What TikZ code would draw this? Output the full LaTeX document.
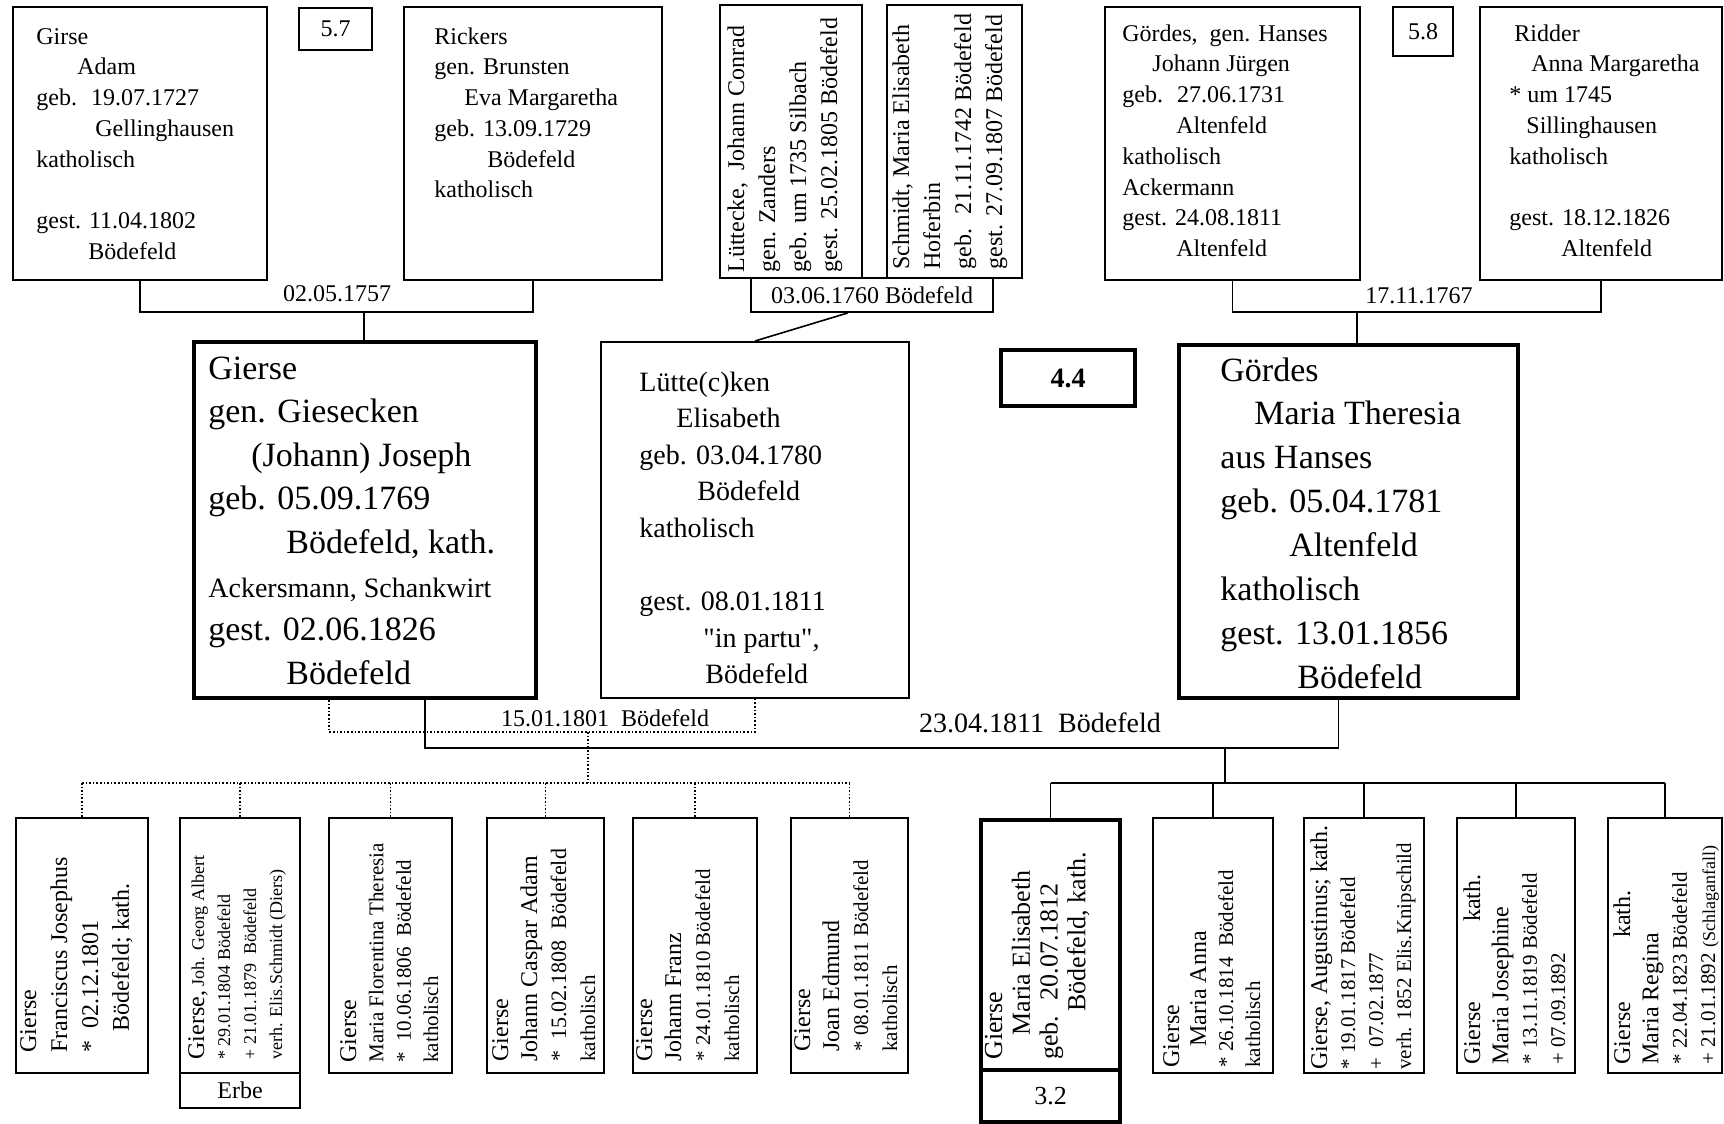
\documentclass[tikz,border=0pt]{standalone}
\usepackage{fontspec}
\setmainfont{Liberation Serif}[Ligatures=TeXOff]
\usetikzlibrary{calc}
\newcommand{\fsz}[2]{\fontsize{#1}{#2}\selectfont}
\newcommand{\stack}[1]{\begin{tabular}[t]{@{}l@{}}#1\end{tabular}}
\tikzset{
  pbox/.style 2 args={draw, line width=1pt, inner sep=0pt,
    minimum width=#1*0.5pt, minimum height=#2*0.5pt},
  pboxthick/.style 2 args={pbox={#1}{#2}, line width=2pt},
  link/.style={line width=0.8pt},
  dotlink/.style={line width=0.8pt, densely dotted},
  txt/.style={anchor=base west, inner sep=0pt},
  vtxt/.style={txt, rotate=90},
  lbl/.style={inner sep=0pt, font=\fsz{12}{14}}
}
\begin{document}
\begin{tikzpicture}[x=0.5pt, y=-0.5pt]
\useasboundingbox (0,0) rectangle (1724,1124);
% grandparents Gierse / Rickers
\node[pbox={254}{273}] (adam) at (140,143.5) {};
\node[txt, font=\fsz{12}{15.4}] (adamtxt) at (36,44)
  {\stack{Girse\\ \hspace*{20.5pt}Adam\\ geb.~ 19.07.1727\\ \hspace*{29.5pt}Gellinghausen\\
   katholisch\\ \\ gest. 11.04.1802\\ \hspace*{26pt}Bödefeld}};
\node[pbox={73}{42}, font=\fsz{12}{14}] (p57) at (335.5,29) {5.7};
\node[pbox={258}{273}] (rickers) at (533,143.5) {};
\node[txt, font=\fsz{12}{15.4}] (rickerstxt) at (434,44)
  {\stack{Rickers\\ gen. Brunsten\\ \hspace*{15pt}Eva Margaretha\\ geb. 13.09.1729\\
   \hspace*{26.5pt}Bödefeld\\ katholisch}};
% grandparents Lüttecke / Schmidt
\node[pbox={142}{273}] (luttecke) at (791,141.5) {};
\node[vtxt, font=\fsz{12}{15.5}] (luttecketxt) at (744,273)
  {\stack{Lüttecke,~ Johann Conrad\\ gen. Zanders\\ geb. um 1735 Silbach\\ gest. 25.02.1805 Bödefeld}};
\node[pbox={135}{273}] (schmidt) at (954.5,141.5) {};
\node[vtxt, font=\fsz{12}{15.5}] (schmidttxt) at (909,270)
  {\stack{Schmidt, Maria Elisabeth\\ Hoferbin\\ geb.~ 21.11.1742 Bödefeld\\ gest. 27.09.1807 Bödefeld}};
\node[pbox={242}{34}, font=\fsz{12}{14}] (wed1760) at (872,295) {03.06.1760 Bödefeld};
% grandparents Gördes / Ridder
\node[pbox={255}{273}] (hanses) at (1232.5,143.5) {};
\node[txt, font=\fsz{12}{15.4}] (hansestxt) at (1122,41)
  {\stack{Gördes,~ gen. Hanses\\ \hspace*{15pt}Johann Jürgen\\ geb.~ 27.06.1731\\ \hspace*{27pt}Altenfeld\\
   katholisch\\ Ackermann\\ gest. 24.08.1811\\ \hspace*{27pt}Altenfeld}};
\node[pbox={60}{49}, font=\fsz{12}{14}] (p58) at (1423,31.5) {5.8};
\node[pbox={242}{273}] (ridder) at (1601,143.5) {};
\node[txt, font=\fsz{12}{15.4}] (riddertxt) at (1509,41)
  {\stack{\hspace*{2.5pt}Ridder\\ \hspace*{11pt}Anna Margaretha\\ {*} um 1745\\ \hspace*{8.5pt}Sillinghausen\\
   katholisch\\ \\ gest. 18.12.1826\\ \hspace*{26pt}Altenfeld}};
% marriages of the grandparents
\coordinate (m1757) at (364,312);
\draw[link] (adam.south) |- (m1757) -| (rickers.south);
\node[lbl] (d1757) at (337,294) {02.05.1757};
\coordinate (m1767) at (1357,312);
\draw[link] (hanses.south) |- (m1767) -| (ridder.south);
\node[lbl] (d1767) at (1419,296) {17.11.1767};
% parents
\node[pboxthick={342}{356}] (gierse) at (365,520) {};
\node[txt, font=\fsz{17}{21.8}] (giersetxt) at (208,379)
  {\stack{Gierse\\ gen. Giesecken\\ \hspace*{21.5pt}(Johann) Joseph\\ geb. 05.09.1769\\
   \hspace*{39pt}Bödefeld, kath.\\ {\fsz{14}{21.8}Ackersmann, Schankwirt}\\
   gest. 02.06.1826\\ \hspace*{39pt}Bödefeld}};
\node[pbox={308}{356}] (lutte) at (755,520) {};
\node[txt, font=\fsz{14}{18.3}] (luttetxt) at (639,391)
  {\stack{Lütte(c)ken\\ \hspace*{18.5pt}Elisabeth\\ geb. 03.04.1780\\ \hspace*{29pt}Bödefeld\\
   katholisch\\ \\ gest. 08.01.1811\\ \hspace*{32pt}"in partu",\\ \hspace*{33pt}Bödefeld}};
\node[pboxthick={134}{56}, font=\bfseries\fsz{14}{16}] (p44) at (1068,378) {4.4};
\node[pboxthick={339}{353}] (gordes) at (1348.5,521.5) {};
\node[txt, font=\fsz{17}{21.95}] (gordestxt) at (1220,381)
  {\stack{Gördes\\ \hspace*{17pt}Maria Theresia\\ aus Hanses\\ geb. 05.04.1781\\
   \hspace*{34.5pt}Altenfeld\\ katholisch\\ gest. 13.01.1856\\ \hspace*{38.5pt}Bödefeld}};
\draw[link] (m1757) -- (m1757 |- gierse.north);
\draw[link] (m1767) -- (m1767 |- gordes.north);
\draw[link] ($(wed1760.south west)!0.4!(wed1760.south east)$) -- (lutte.north);
% children of the first marriage
\node[pbox={132}{255}] (franciscus) at (82,945.5) {};
\node[vtxt, font=\fsz{12}{15.5}] (franciscustxt) at (36,1053)
  {\stack{Gierse\\ Franciscus Josephus\\ {*}~ 02.12.1801\\ \hspace*{10.5pt}Bödefeld; kath.}};
\node[pbox={120}{255}] (albert) at (240,945.5) {};
\node[pbox={120}{35}, font=\fsz{12}{14}] (erbe) at (240,1090.5) {Erbe};
\node[vtxt, font=\fsz{9}{13}] (alberttxt) at (204,1060)
  {\stack{{\fsz{12}{13}Gierse,} Joh. Georg Albert\\ {*} 29.01.1804 Bödefeld\\ + 21.01.1879~ Bödefeld\\
   verh. Elis.Schmidt (Diers)}};
\node[pbox={123}{255}] (florentina) at (390.5,945.5) {};
\node[vtxt, font=\fsz{10.5}{13.7}] (florentinatxt) at (356,1063)
  {\stack{{\fsz{12}{13.7}Gierse}\\ Maria Florentina Theresia\\ {*}~ 10.06.1806~ Bödefeld\\ katholisch}};
\node[pbox={117}{255}] (caspar) at (545.5,945.5) {};
\node[vtxt, font=\fsz{12}{14.5}] (caspartxt) at (508,1062)
  {\stack{Gierse\\ Johann Caspar Adam\\ {\fsz{11}{14.5}*~ 15.02.1808~ Bödefeld}\\ {\fsz{10.5}{14.5}katholisch}}};
\node[pbox={124}{255}] (franz) at (695,945.5) {};
\node[vtxt, font=\fsz{12}{14.5}] (franztxt) at (652,1062)
  {\stack{Gierse\\ Johann Franz\\ {\fsz{10.5}{14.5}* 24.01.1810 Bödefeld}\\ {\fsz{10.5}{14.5}katholisch}}};
\node[pbox={117}{255}] (edmund) at (849.5,945.5) {};
\node[vtxt, font=\fsz{12}{14.5}] (edmundtxt) at (810,1052)
  {\stack{Gierse\\ Joan Edmund\\ {\fsz{10.5}{14.5}* 08.01.1811 Bödefeld}\\ {\fsz{10.5}{14.5}katholisch}}};
% marriage 1801, dotted
\coordinate (m1801) at (588,732);
\coordinate (k1801) at (588,783);
\draw[dotlink] ([xshift=-18pt]gierse.south) |- (m1801) -| (lutte.south);
\node[lbl] (d1801) at (605,718) {15.01.1801~ Bödefeld};
\draw[dotlink] (m1801) -- (k1801);
\draw[dotlink] (franciscus.north |- k1801) -- (edmund.north |- k1801);
\foreach \kid in {franciscus,albert,florentina,caspar,franz,edmund}
  \draw[dotlink] (\kid.north) -- (\kid.north |- k1801);
% children of the second marriage
\node[pboxthick={139}{250}] (elisabeth) at (1050.5,945) {};
\node[pboxthick={139}{52}, font=\fsz{13}{15}] (num32) at (1050.5,1096) {3.2};
\node[vtxt, font=\fsz{13}{13.9}] (elisabethtxt) at (1002,1060)
  {\stack{Gierse\\ \hspace*{12pt}Maria Elisabeth\\ geb.~ 20.07.1812\\ \hspace*{24pt}Bödefeld, kath.}};
\node[pbox={120}{255}] (anna) at (1213,945.5) {};
\node[vtxt, font=\fsz{12}{13.5}] (annatxt) at (1179,1068)
  {\stack{Gierse\\ \hspace*{10.5pt}Maria Anna\\ {\fsz{10.5}{13.5}* 26.10.1814~ Bödefeld}\\ {\fsz{10.5}{13.5}katholisch}}};
\node[pbox={120}{255}] (augustinus) at (1364,945.5) {};
\node[vtxt, font=\fsz{10.5}{14}] (augustinustxt) at (1327,1070)
  {\stack{{\fsz{12}{14}Gierse, Augustinus; kath.}\\ {*} 19.01.1817 Bödefeld\\ +~ 07.02.1877\\
   verh. 1852 Elis.Knipschild}};
\node[pbox={118}{255}] (josephine) at (1516,945.5) {};
\node[vtxt, font=\fsz{12}{14.2}] (josephinetxt) at (1480,1065)
  {\stack{Gierse\hspace*{40pt}kath.\\ Maria Josephine\\ {\fsz{10.5}{14.2}* 13.11.1819 Bödefeld}\\
   {\fsz{10.5}{14.2}+ 07.09.1892}}};
\node[pbox={114}{255}] (regina) at (1665,945.5) {};
\node[vtxt, font=\fsz{12}{14.2}] (reginatxt) at (1630,1065)
  {\stack{Gierse\hspace*{32pt}kath.\\ Maria Regina\\ {\fsz{10.5}{14.2}* 22.04.1823 Bödefeld}\\
   {\fsz{10.5}{14.2}+ 21.01.1892 {\fsz{9}{14.2}(Schlaganfall)}}}};
% marriage 1811
\coordinate (m1811) at (1225,748);
\coordinate (k1811) at (1225,783);
\draw[link] ([xshift=30pt]gierse.south) |- (m1811) -| ([xshift=-5pt]gordes.south);
\node[inner sep=0pt, font=\fsz{14}{16}] (d1811) at (1040,723) {23.04.1811~ Bödefeld};
\draw[link] (m1811) -- (k1811);
\draw[link] (elisabeth.north |- k1811) -- (regina.north |- k1811);
\foreach \kid in {elisabeth,anna,augustinus,josephine,regina}
  \draw[link] (\kid.north) -- (\kid.north |- k1811);
\end{tikzpicture}
\end{document}
